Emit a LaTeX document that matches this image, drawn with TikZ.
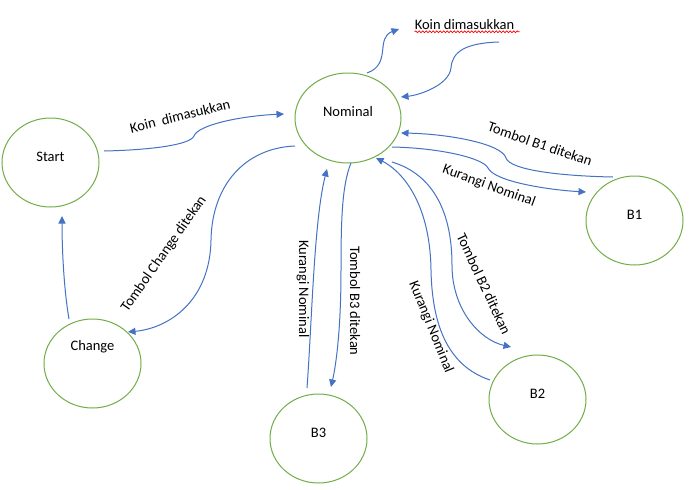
\documentclass[tikz,border=0pt]{standalone}
\usepackage{fontspec}
\setmainfont{Carlito}
\usetikzlibrary{shapes.geometric,arrows.meta,decorations.pathmorphing,calc}
\definecolor{stgreen}{HTML}{70AD47}
\definecolor{arblue}{HTML}{4472C4}
\begin{document}
\begin{tikzpicture}[x=1pt,y={(0,-1pt)},
  state/.style={ellipse, draw=stgreen, line width=1pt, minimum width=97pt, minimum height=89pt, inner sep=0pt},
  conn/.style={draw=arblue, line width=1pt, -{Triangle[length=7.5pt,width=7pt]}},
  lbl/.style={font=\fontsize{14.5}{16}\selectfont, inner sep=0pt},
  stxt/.style={font=\fontsize{14.5}{16}\selectfont, inner sep=0pt}]
\useasboundingbox[fill=white] (0,0) rectangle (689,490);

% states
\node[state, label={[stxt,yshift=5.5pt]center:Start}] (start) at (50.5,162.5) {};
\node[state, minimum width=106pt, minimum height=90pt, label={[stxt,yshift=6pt]center:Nominal}] (nominal) at (348,118) {};
\node[state, label={[stxt,yshift=5.5pt]center:B1}] (b1) at (634.5,220.5) {};
\node[state, label={[stxt,yshift=5.5pt]center:B2}] (b2) at (537.5,399.5) {};
\node[state, label={[stxt,yshift=5.5pt]center:B3}] (b3) at (318.5,438.5) {};
\node[state, label={[stxt,yshift=16.5pt]center:Change}] (change) at (92.5,363.5) {};

% top label
\node[lbl, anchor=base] (koin) at (464.5,29) {Koin dimasukkan};
\draw[red, line width=0.7pt, decorate, decoration={snake, amplitude=0.9pt, segment length=3.5pt}] (koin.south west) ++(0,2.5) -- ++(105,0);
\coordinate (k1) at (399,29);
\coordinate (k2) at (499,42);

% connectors
\draw[conn] ($(start)+(53.5,-11.5)$) .. controls (150,150) and (190,145) .. (194,136)
  .. controls (198,125) and (240,116) .. ($(nominal)+(-64,-4)$);
\draw[conn] ($(nominal)+(19,-45)$) .. controls (392,64) and (375,38) .. (k1);
\draw[conn] (k2) .. controls (465,43) and (452,52) .. (451,68)
  .. controls (449,85) and (420,95) .. ($(nominal)+(53,-21)$);
\draw[conn] ($(b1)+(-21.5,-43.5)$) .. controls (560,176) and (510,170) .. (506,158)
  .. controls (502,144) and (450,134) .. ($(nominal)+(53,15)$);
\draw[conn] ($(nominal)+(44,29)$) .. controls (440,148) and (483,158) .. (488,168)
  .. controls (495,182) and (550,190) .. ($(b1)+(-48.5,-28.5)$);
\draw[conn] ($(nominal)+(44,44)$) .. controls (435,175) and (452,215) .. (452,265)
  .. controls (452,310) and (480,340) .. ($(b2)+(-26.5,-52.5)$);
\draw[conn] ($(b2)+(-47.5,-19.5)$) .. controls (445,365) and (432,320) .. (431,270)
  .. controls (430,200) and (400,170) .. ($(nominal)+(28,40)$);
\draw[conn] ($(nominal)+(3,45)$) .. controls (342,185) and (341,220) .. (341,270)
  .. controls (341,330) and (336,365) .. ($(b3)+(12.5,-51.5)$);
\draw[conn] ($(b3)+(-11.5,-50.5)$) .. controls (312,320) and (314,220) .. ($(nominal)+(-21,51)$);
\draw[conn] ($(nominal)+(-53,28)$) .. controls (245,148) and (212,185) .. (211,240)
  .. controls (210,300) and (170,328) .. ($(change)+(35.5,-31.5)$);
\draw[conn] ($(change)+(-23.5,-44.5)$) .. controls (64,290) and (62,250) .. ($(start)+(11.5,53.5)$);

% connector labels
\node[lbl, rotate=14] (l1) at (180,116) {Koin\ \ dimasukkan};
\node[lbl, rotate=-19] (l2) at (540,144) {Tombol B1 ditekan};
\node[lbl, rotate=-20] (l3) at (489,186) {Kurangi Nominal};
\node[lbl, rotate=-65] (l4) at (484,284) {Tombol B2 ditekan};
\node[lbl, rotate=-68] (l5) at (431,327) {Kurangi Nominal};
\node[lbl, rotate=-90] (l6) at (355,301) {Tombol B3 ditekan};
\node[lbl, rotate=-90] (l7) at (303,289) {Kurangi Nominal};
\node[lbl, rotate=55] (l8) at (164,254) {Tombol Change ditekan};
\end{tikzpicture}
\end{document}
